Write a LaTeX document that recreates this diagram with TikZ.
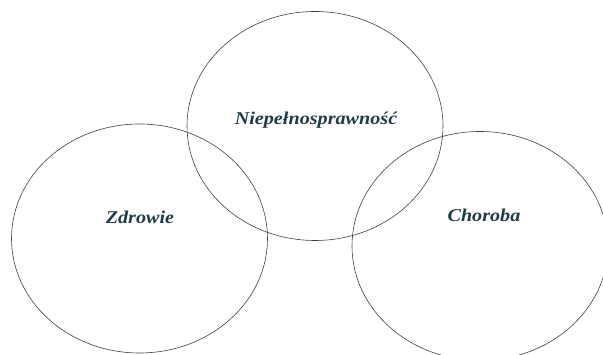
\documentclass[tikz,border=0pt]{standalone}
\usepackage{fontspec}
\newfontfamily\labelfont{Liberation Serif}[UprightFont={* Bold Italic}]
\usetikzlibrary{shapes.geometric}
\definecolor{labelcol}{RGB}{30,60,70}

\begin{document}
\begin{tikzpicture}[x=1pt,y=1pt,
  set/.style={ellipse,draw=black!75,line width=0.6pt,minimum width=256pt,minimum height=229pt,inner sep=0pt},
  setlabel/.style={font=\labelfont\fontsize{18}{20}\selectfont,text=labelcol,xscale=1.12,transform shape}]
  \useasboundingbox (0,0) rectangle (603,355);
  \node[set] (top)   at (315,229)   {};
  \node[set] (left)  at (139.5,116.5) {};
  \node[set] (right) at (480,109)   {};
  \node[setlabel] (niep) at (316,235) {Niepełnosprawność};
  \node[setlabel] (zdr)  at (140,138) {Zdrowie};
  \node[setlabel] (chor) at (484,140) {Choroba};
\end{tikzpicture}
\end{document}
